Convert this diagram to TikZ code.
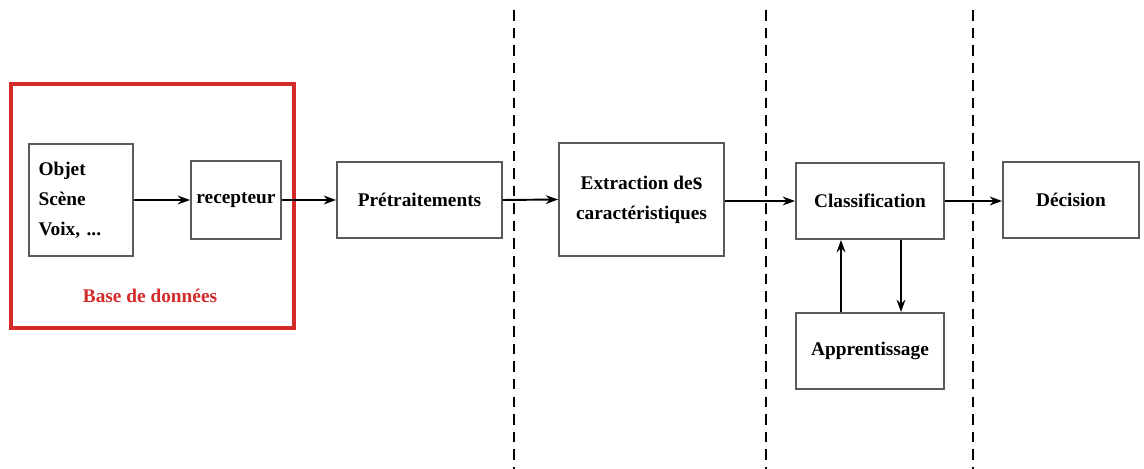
\documentclass[tikz,border=0pt]{standalone}
\usepackage{fontspec}
\setmainfont{Liberation Serif}
\usetikzlibrary{arrows.meta}
\definecolor{boxgray}{HTML}{5A5A5A}
\definecolor{dbred}{HTML}{D42A2A}
\tikzset{
  blk/.style={draw=boxgray, line width=1.1pt, fill=white, font=\fontsize{11}{17}\selectfont\bfseries, align=center, inner sep=0pt},
  conn/.style={line width=1.1pt, -{Stealth[length=7pt,width=5pt]}},
  sep/.style={line width=1.2pt, dash pattern=on 6pt off 4pt},
}
\begin{document}
\begin{tikzpicture}[x=0.02cm,y=-0.02cm]
\useasboundingbox (0,0) rectangle (1144,469);
% separators
\draw[sep] (514,10) -- (514,469);
\draw[sep] (766,10) -- (766,469);
\draw[sep] (973,10) -- (973,469);
% database frame
\draw[dbred, line width=2pt] (11,84) rectangle (294,328);
\node[text=dbred, font=\fontsize{11}{13}\selectfont\bfseries] (db) at (150,296) {Base de données};
% boxes
\node[blk, minimum width=2.08cm, minimum height=2.24cm, align=left, text width=1.7cm] (obj) at (81,200) {Objet\\Scène\\Voix, ...};
\node[blk, minimum width=1.8cm, minimum height=1.56cm] (rec) at (236,200) {recepteur};
\node[blk, minimum width=3.3cm, minimum height=1.52cm] (pre) at (419.5,200) {Prétraitements};
\node[blk, minimum width=3.3cm, minimum height=2.26cm] (ext) at (641.5,199.5) {Extraction de{\fontsize{14}{17}\selectfont s}\\caractéristiques};
\node[blk, minimum width=2.96cm, minimum height=1.52cm] (cls) at (870,201) {Classification};
\node[blk, minimum width=2.72cm, minimum height=1.52cm] (dec) at (1071,200) {Décision};
\node[blk, minimum width=2.96cm, minimum height=1.52cm] (app) at (870,351) {Apprentissage};
% connectors
\draw[conn] (obj.east) -- (rec.west);
\draw[conn] (rec.east) -- (pre.west);
\draw[conn] (pre.east) -- (ext.west);
\draw[conn] (ext.east |- cls.west) -- (cls.west);
\draw[conn] (cls.east) -- (dec.west |- cls.east);
\draw[conn] (app.north -| 841,0) -- (cls.south -| 841,0);
\draw[conn] (cls.south -| 901,0) -- (app.north -| 901,0);
\end{tikzpicture}
\end{document}
